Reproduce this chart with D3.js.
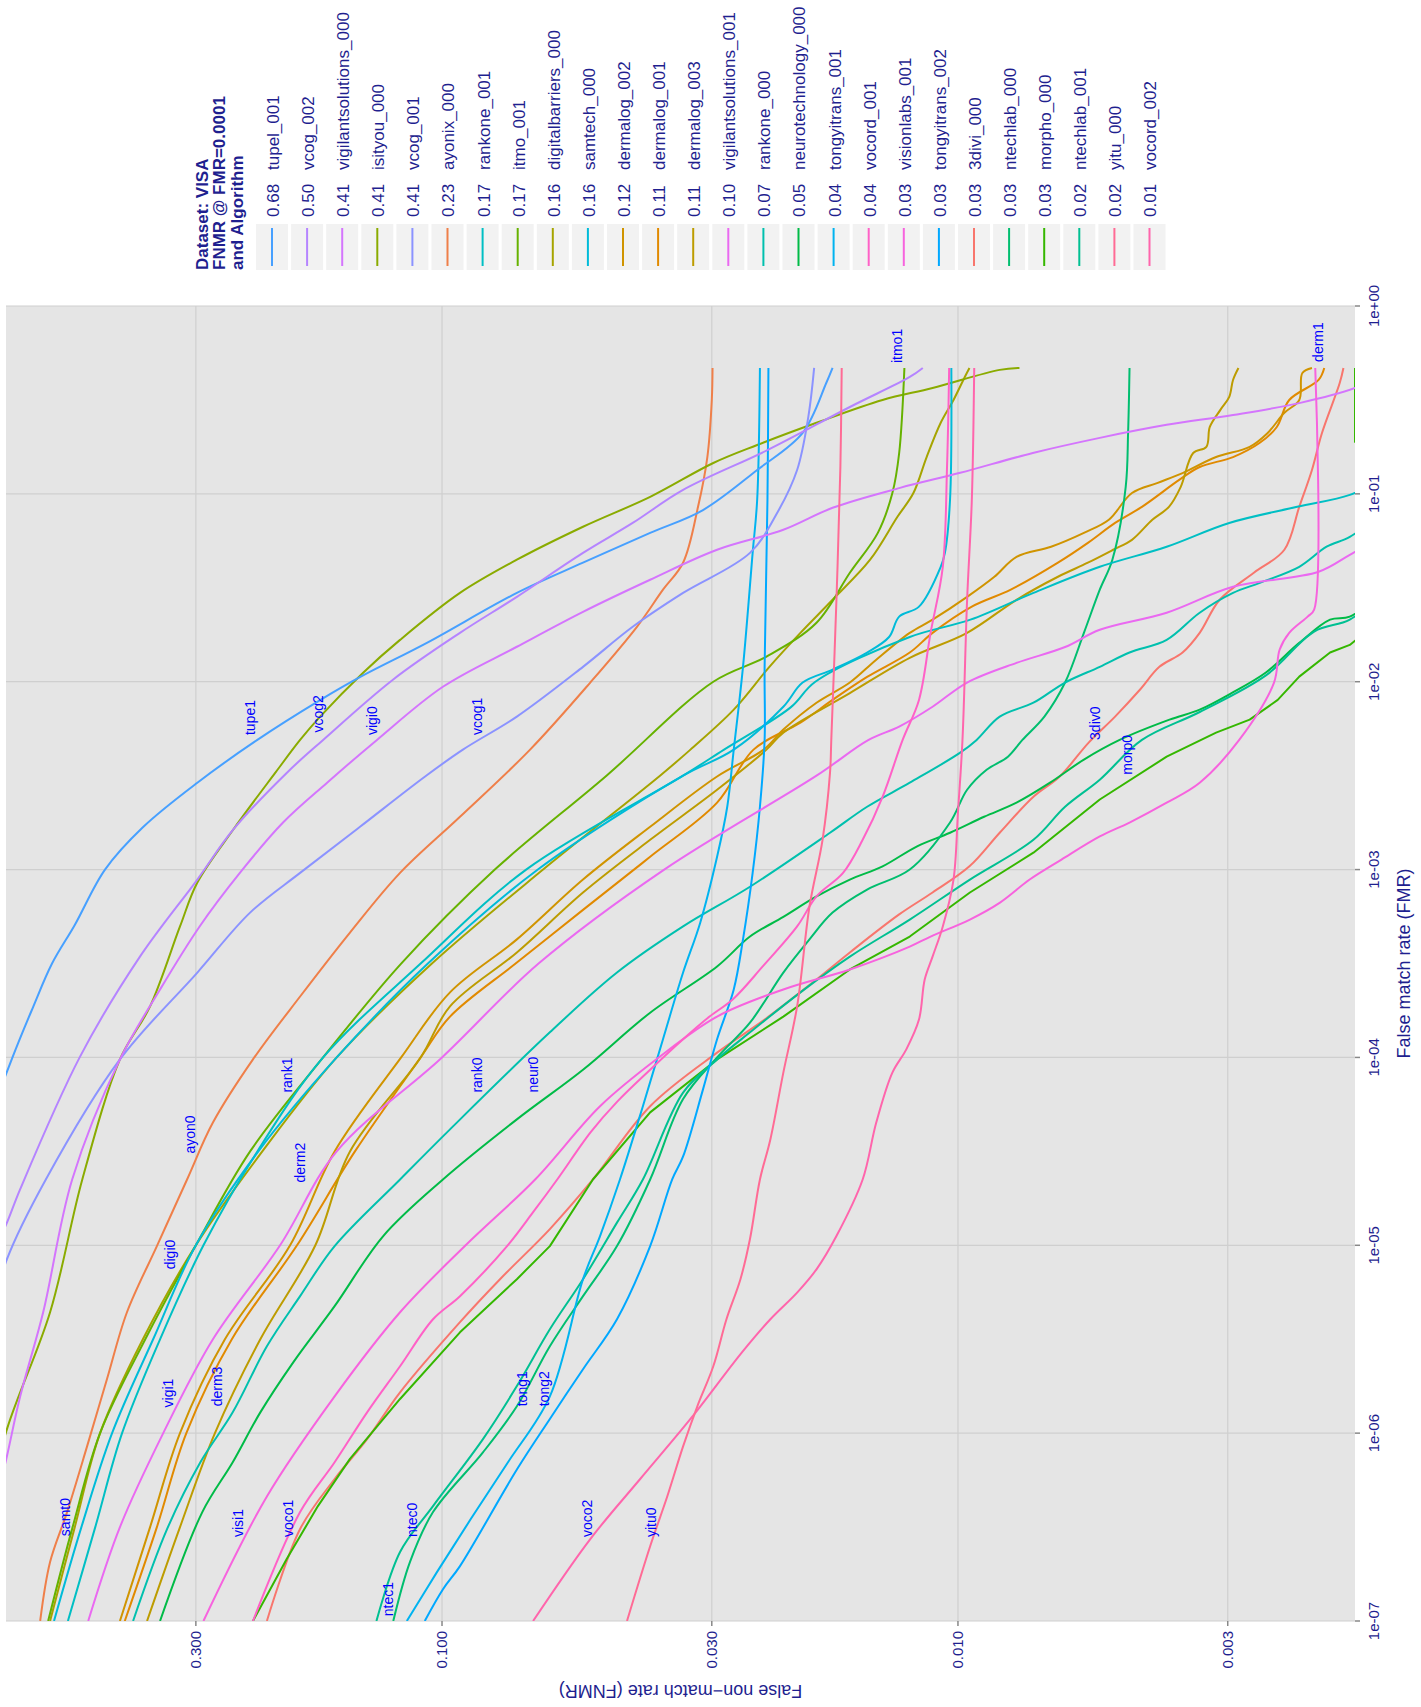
<!DOCTYPE html>
<html>
<head>
<meta charset="utf-8">
<script src="https://cdnjs.cloudflare.com/ajax/libs/d3/7.8.5/d3.min.js"></script>
<style>
  body { margin: 0; background: #fff; }
  text { font-family: "Liberation Sans", Arial, sans-serif; }
</style>
</head>
<body>
<svg id="chart" width="1421" height="1707"></svg>
<script>
// ---- data: [FMR, FNMR] pairs ----
const tupel_001 = [[1e-7,0.97],[3.16e-7,0.95],[1e-6,0.93],[3.16e-6,0.9],[1e-5,0.86],[3.16e-5,0.79],[1e-4,0.68],[1.86e-4,0.62],[3.16e-4,0.57],[5.07e-4,0.515],[1e-3,0.45],[1.68e-3,0.38],[2.9e-3,0.298],[4.9e-3,0.228],[8e-3,0.172],[0.0106,0.144],[0.0161,0.107],[0.0297,0.0716],[0.043,0.0533],[0.062,0.0395],[0.082,0.0312],[0.134,0.0245],[0.211,0.02],[0.389,0.018],[0.468,0.0175]];
const vcog_002 = [[1e-7,0.95],[1e-6,0.88],[3.16e-6,0.82],[1e-5,0.73],[1.32e-5,0.697],[1.99e-5,0.657],[1.01e-4,0.503],[3.44e-4,0.385],[8.85e-4,0.298],[1.63e-3,0.254],[3.28e-3,0.1998],[4.9e-3,0.17],[0.01025,0.1245],[0.0182,0.0923],[0.0283,0.0716],[0.0485,0.0533],[0.07,0.0427],[0.105,0.0341],[0.171,0.0234],[0.29,0.0162],[0.419,0.0124],[0.468,0.0117]];
const vigilantsolutions_000 = [[1e-7,0.8],[3.16e-7,0.75],[7.55e-7,0.697],[1.57e-6,0.657],[4.4e-6,0.593],[2.24e-5,0.521],[9.76e-5,0.421],[2.3e-4,0.352],[4.98e-4,0.295],[9.6e-4,0.2465],[1.78e-3,0.2033],[2.9e-3,0.167],[4.9e-3,0.1337],[9.4e-3,0.0996],[0.01535,0.0716],[0.02355,0.0533],[0.0349,0.0395],[0.0504,0.0293],[0.0644,0.0218],[0.0843,0.0175],[0.1076,0.01295],[0.1294,0.0099],[0.165,0.00716],[0.1986,0.00531],[0.233,0.00394],[0.263,0.00293],[0.305,0.00217],[0.366,0.0017],[0.468,0.0014]];
const isityou_000 = [[1e-7,0.85],[3.16e-7,0.78],[1.05e-6,0.697],[4.4e-6,0.575],[2.24e-5,0.498],[9.76e-5,0.421],[1.87e-4,0.368],[4.98e-4,0.322],[8.53e-4,0.298],[1.63e-3,0.254],[3.28e-3,0.2104],[4.9e-3,0.1884],[6.52e-3,0.1723],[0.01117,0.1422],[0.0167,0.1206],[0.0297,0.0923],[0.0446,0.0716],[0.0668,0.0533],[0.0964,0.0395],[0.146,0.0298],[0.182,0.0245],[0.239,0.0188],[0.316,0.014],[0.366,0.0112],[0.457,0.0083],[0.468,0.0076]];
const vcog_001 = [[1e-7,0.92],[1e-6,0.85],[3.16e-6,0.77],[8.43e-6,0.697],[2.24e-5,0.586],[9.76e-5,0.421],[2.83e-4,0.298],[5.9e-4,0.2355],[9.6e-4,0.1884],[1.69e-3,0.1442],[3.12e-3,0.108],[4.35e-3,0.0911],[6.52e-3,0.0716],[0.012,0.0533],[0.0196,0.0427],[0.0297,0.0341],[0.0485,0.0253],[0.0793,0.0224],[0.134,0.0205],[0.257,0.0195],[0.468,0.019]];
const ayonix_000 = [[1e-7,0.601],[2.06e-7,0.575],[3.8e-7,0.533],[8.5e-7,0.4875],[1.94e-6,0.446],[4.4e-6,0.408],[9.9e-6,0.357],[2.24e-5,0.312],[4.5e-5,0.278],[9.76e-5,0.2325],[2.11e-4,0.1884],[4.62e-4,0.1508],[9.6e-4,0.1206],[1.91e-3,0.0923],[4.35e-3,0.0675],[9.9e-3,0.0516],[0.0196,0.0419],[0.0309,0.0373],[0.043,0.0341],[0.0853,0.0319],[0.157,0.0306],[0.316,0.03],[0.468,0.0299]];
const rankone_001 = [[1e-7,0.531],[3.16e-7,0.47],[1e-6,0.417],[3.16e-6,0.352],[1e-5,0.29],[3.16e-5,0.228],[1e-4,0.17],[3.16e-4,0.11],[1e-3,0.0687],[3.16e-3,0.0341],[4.35e-3,0.0284],[7.3e-3,0.0211],[0.01,0.0189],[0.0173,0.0124],[0.0214,0.00946],[0.0297,0.00714],[0.0409,0.00531],[0.0523,0.00394],[0.07,0.00298],[0.0853,0.0022],[0.0988,0.00174],[0.12,0.0015]];
const itmo_001 = [[1e-7,0.58],[3.16e-7,0.52],[1e-6,0.46],[3.16e-6,0.376],[1e-5,0.3],[3.16e-5,0.2355],[1e-4,0.17],[3.16e-4,0.12],[1e-3,0.079],[3.16e-3,0.048],[0.01,0.0298],[0.0136,0.0235],[0.0206,0.0188],[0.038,0.0162],[0.062,0.0143],[0.101,0.0134],[0.165,0.013],[0.468,0.0127]];
const digitalbarriers_000 = [[1e-7,0.575],[3.16e-7,0.515],[1e-6,0.46],[3.16e-6,0.38],[1e-5,0.3],[3.16e-5,0.223],[1e-4,0.16],[3.16e-4,0.1046],[1e-3,0.0637],[3.16e-3,0.0378],[4.35e-3,0.033],[7.1e-3,0.0272],[0.012,0.0232],[0.0182,0.0202],[0.0273,0.0175],[0.0446,0.0148],[0.0755,0.0131],[0.101,0.0122],[0.157,0.0115],[0.239,0.0108],[0.316,0.0102],[0.419,0.0097],[0.468,0.0095]];
const samtech_000 = [[1e-7,0.565],[3.16e-7,0.5],[1e-6,0.436],[3.16e-6,0.363],[1e-5,0.3],[3.16e-5,0.227],[1e-4,0.16],[3.16e-4,0.1065],[1e-3,0.0652],[3.16e-3,0.0341],[4.35e-3,0.0272],[7.36e-3,0.0218],[9.9e-3,0.02],[0.0116,0.0175],[0.0143,0.015],[0.0173,0.0136],[0.0222,0.013],[0.0251,0.0119],[0.0409,0.0108],[0.0485,0.0106],[0.093,0.01036],[0.468,0.0103]];
const dermalog_002 = [[1e-7,0.421],[3.16e-7,0.368],[1e-6,0.322],[3.16e-6,0.2635],[1e-5,0.197],[3.16e-5,0.1615],[1e-4,0.12],[2.22e-4,0.0965],[4.25e-4,0.0716],[8.85e-4,0.0533],[1.69e-3,0.0395],[3.13e-3,0.0293],[4.35e-3,0.0238],[5.56e-3,0.0218],[7.73e-3,0.0188],[9.9e-3,0.0162],[0.0131,0.0144],[0.0182,0.0124],[0.0214,0.0112],[0.0283,0.0096],[0.0362,0.0085],[0.0462,0.0077],[0.0523,0.0066],[0.062,0.0057],[0.0728,0.0051],[0.101,0.0046],[0.1145,0.0041],[0.129,0.00367],[0.157,0.00316],[0.178,0.00272],[0.211,0.00251],[0.27,0.00233],[0.316,0.00218],[0.44,0.00215],[0.468,0.00206]];
const dermalog_001 = [[1e-7,0.412],[3.16e-7,0.357],[1e-6,0.313],[3.16e-6,0.2555],[1e-5,0.191],[3.16e-5,0.1475],[1e-4,0.11],[1.65e-4,0.0965],[3.2e-4,0.0716],[6.1e-4,0.0533],[1.17e-3,0.0395],[2.27e-3,0.0293],[4.35e-3,0.0249],[6.05e-3,0.0202],[8e-3,0.0175],[0.0106,0.015],[0.0143,0.0124],[0.0182,0.0112],[0.0251,0.0094],[0.0309,0.0079],[0.043,0.0064],[0.0548,0.0056],[0.07,0.00496],[0.0853,0.0044],[0.119,0.00372],[0.139,0.0034],[0.157,0.00293],[0.187,0.0026],[0.227,0.00241],[0.316,0.00228],[0.404,0.002],[0.468,0.00195]];
const dermalog_003 = [[1e-7,0.373],[3.16e-7,0.322],[1e-6,0.2755],[3.16e-6,0.225],[1e-5,0.176],[3.16e-5,0.1508],[1e-4,0.11],[1.87e-4,0.0965],[3.62e-4,0.0716],[7.55e-4,0.0533],[1.44e-3,0.0395],[2.66e-3,0.0293],[4.35e-3,0.0235],[5.36e-3,0.0218],[8.7e-3,0.0162],[0.0134,0.0124],[0.0182,0.0096],[0.0273,0.0077],[0.0362,0.0064],[0.043,0.0056],[0.0504,0.005],[0.0569,0.0046],[0.0728,0.0042],[0.0853,0.0039],[0.109,0.0037],[0.165,0.0035],[0.178,0.0033],[0.227,0.00325],[0.28,0.0031],[0.328,0.00298],[0.404,0.00293],[0.468,0.00286]];
const vigilantsolutions_001 = [[1e-7,0.485],[3.16e-7,0.421],[1e-6,0.347],[3.16e-6,0.278],[1e-5,0.206],[3.16e-5,0.16],[1e-4,0.1],[3.16e-4,0.065],[1e-3,0.0371],[3.16e-3,0.0188],[4.9e-3,0.0149],[5.77e-3,0.013],[7.36e-3,0.0112],[9.9e-3,0.0096],[0.0126,0.0077],[0.0153,0.0062],[0.0189,0.00531],[0.0233,0.00394],[0.032,0.00293],[0.0385,0.002],[0.0474,0.00174],[0.06,0.0015]];
const rankone_000 = [[1e-7,0.397],[3.09e-7,0.341],[7e-7,0.294],[1.29e-6,0.2545],[2.9e-6,0.2185],[5.36e-6,0.1884],[9.9e-6,0.1615],[2.24e-5,0.1206],[4.14e-5,0.0965],[1.36e-4,0.0618],[2.83e-4,0.0458],[4.98e-4,0.0341],[8.1e-4,0.0253],[1.57e-3,0.0177],[2.16e-3,0.015],[2.9e-3,0.0124],[4.19e-3,0.0099],[4.9e-3,0.0092],[6.52e-3,0.0083],[7.73e-3,0.00714],[9.9e-3,0.0062],[0.012,0.00531],[0.0143,0.00465],[0.0167,0.00394],[0.0233,0.0034],[0.0297,0.00293],[0.0336,0.0026],[0.0409,0.00218],[0.0523,0.00193],[0.059,0.00174],[0.08,0.0015]];
const neurotechnology_000 = [[1e-7,0.352],[3.8e-7,0.2915],[7e-7,0.2545],[1.29e-6,0.225],[2.39e-6,0.1941],[4.74e-6,0.1615],[1.12e-5,0.13],[2.24e-5,0.0996],[4.68e-5,0.0716],[8.6e-5,0.0533],[1.73e-4,0.0395],[3.05e-4,0.0293],[4.4e-4,0.0253],[5.6e-4,0.0218],[7.2e-4,0.0188],[8.85e-4,0.0162],[1.04e-3,0.014],[1.33e-3,0.012],[1.57e-3,0.01036],[1.91e-3,0.0089],[2.27e-3,0.0077],[2.9e-3,0.00663],[3.85e-3,0.0057],[4.9e-3,0.00486],[6.28e-3,0.00389],[7.1e-3,0.0034],[8.7e-3,0.00295],[0.0112,0.00253],[0.0161,0.00218],[0.0214,0.0019],[0.0222,0.00174],[0.03,0.0015]];
const tongyitrans_001 = [[1e-7,0.117],[1.82e-7,0.1023],[3.5e-7,0.0879],[7e-7,0.0745],[1.57e-6,0.0618],[6.6e-6,0.0533],[1.12e-5,0.0494],[2.24e-5,0.0452],[5.5e-5,0.0408],[1.25e-4,0.0373],[2.83e-4,0.0341],[5.2e-4,0.0316],[1.17e-3,0.0293],[2.16e-3,0.028],[4.35e-3,0.0272],[0.012,0.0261],[0.0485,0.025],[0.093,0.0245],[0.468,0.0242]];
const vocord_001 = [[1e-7,0.2325],[3.8e-7,0.1884],[7e-7,0.1615],[1.29e-6,0.1397],[2.27e-6,0.1206],[4.04e-6,0.1041],[5.36e-6,0.0923],[9.9e-6,0.0748],[1.5e-5,0.0666],[2.24e-5,0.0598],[4e-5,0.0515],[5.8e-5,0.0458],[8.6e-5,0.0395],[1.25e-4,0.0341],[1.65e-4,0.0303],[2.04e-4,0.0273],[3.05e-4,0.0239],[4.98e-4,0.0205],[7.2e-4,0.0188],[9.6e-4,0.0167],[1.44e-3,0.0153],[2.44e-3,0.014],[4.9e-3,0.0128],[8e-3,0.0119],[0.0182,0.0113],[0.0409,0.0107],[0.139,0.0105],[0.468,0.0104]];
const visionlabs_001 = [[1e-7,0.29],[4.6e-7,0.2185],[1.57e-6,0.1615],[4.4e-6,0.1206],[1e-5,0.09],[2.24e-5,0.066],[5.5e-5,0.0494],[1e-4,0.038],[1.65e-4,0.0293],[2.3e-4,0.0218],[2.94e-4,0.0162],[3.89e-4,0.0124],[4.4e-4,0.0113],[5.42e-4,0.00948],[6.67e-4,0.00829],[8.85e-4,0.00726],[1.13e-3,0.0063],[1.5e-3,0.00531],[1.78e-3,0.00465],[2.27e-3,0.00394],[2.9e-3,0.0034],[4.9e-3,0.00285],[9.9e-3,0.00244],[0.0148,0.00238],[0.0182,0.00228],[0.0222,0.0021],[0.0242,0.00204],[0.468,0.00203]];
const tongyitrans_002 = [[1e-7,0.108],[1.48e-7,0.0995],[1.96e-7,0.0923],[6.4e-7,0.0716],[1.19e-6,0.0618],[2.19e-6,0.0533],[4.04e-6,0.0458],[9.9e-6,0.0395],[2.24e-5,0.0358],[2.97e-5,0.0341],[6.76e-5,0.0312],[1.25e-4,0.0293],[2.3e-4,0.0272],[4.25e-4,0.0261],[9.6e-4,0.025],[2.16e-3,0.0242],[4.9e-3,0.0237],[0.012,0.0237],[0.093,0.0234],[0.468,0.0233]];
const divi_000 = [[1e-7,0.2185],[3.09e-7,0.1884],[5.7e-7,0.1615],[9.3e-7,0.1397],[1.65e-6,0.1206],[3.9e-6,0.0923],[6.6e-6,0.0772],[1.22e-5,0.0618],[2.24e-5,0.051],[5.5e-5,0.0395],[1.06e-4,0.0293],[1.59e-4,0.0237],[2.6e-4,0.0188],[3.62e-4,0.0162],[5.77e-4,0.013],[7.55e-4,0.0112],[1.04e-3,0.0095],[1.57e-3,0.0083],[2.44e-3,0.00714],[3.13e-3,0.00635],[4.74e-3,0.00558],[6.52e-3,0.00496],[9.06e-3,0.00444],[0.012,0.00407],[0.0143,0.00367],[0.0182,0.0034],[0.0273,0.00311],[0.038,0.00267],[0.0504,0.00233],[0.0853,0.00218],[0.134,0.00206],[0.211,0.00197],[0.389,0.00182],[0.468,0.00179]];
const ntechlab_000 = [[1e-7,0.1243],[2.06e-7,0.1154],[3.8e-7,0.1041],[7.9e-7,0.0833],[1.39e-6,0.0716],[2.9e-6,0.0618],[5.36e-6,0.0533],[9.9e-6,0.0458],[2.24e-5,0.0395],[6e-5,0.0341],[1e-4,0.0293],[1.53e-4,0.0253],[2.83e-4,0.0218],[4.25e-4,0.0194],[5.9e-4,0.0175],[7.83e-4,0.015],[1e-3,0.0124],[1.78e-3,0.01036],[2.66e-3,0.0096],[3.4e-3,0.0088],[3.99e-3,0.008],[4.9e-3,0.0075],[6.52e-3,0.0068],[9.9e-3,0.0062],[0.0182,0.0057],[0.0309,0.00531],[0.0446,0.00502],[0.109,0.00473],[0.211,0.00468],[0.468,0.00465]];
const morpho_000 = [[1e-7,0.2325],[2.14e-7,0.2],[4.09e-7,0.174],[7.3e-7,0.1508],[1.52e-6,0.1206],[3.44e-6,0.0923],[6.6e-6,0.0716],[9.9e-6,0.0618],[2.24e-5,0.051],[5.1e-5,0.0395],[9.76e-5,0.0293],[1.65e-4,0.0218],[2.94e-4,0.0162],[4.4e-4,0.0124],[7.55e-4,0.00948],[1.23e-3,0.00714],[2.36e-3,0.00531],[3.99e-3,0.00394],[5.36e-3,0.00316],[6.28e-3,0.00272],[8e-3,0.0024],[0.01064,0.00218],[0.0143,0.0019],[0.0157,0.00174],[0.03,0.0013],[0.1,0.001],[0.189,0],[0.468,0]];
const ntechlab_001 = [[1e-7,0.134],[2.33e-7,0.1206],[4.09e-7,0.1041],[9.3e-7,0.0833],[1.78e-6,0.0716],[3.57e-6,0.0618],[6.6e-6,0.0533],[1.32e-5,0.0458],[2.24e-5,0.0408],[6.5e-5,0.0341],[9.76e-5,0.0293],[1.36e-4,0.0253],[2.22e-4,0.0202],[3.44e-4,0.0162],[5.42e-4,0.0124],[8.85e-4,0.00948],[1.44e-3,0.00714],[2.16e-3,0.0062],[3.01e-3,0.00531],[4.9e-3,0.0044],[6.9e-3,0.0034],[0.0108,0.00253],[0.0185,0.00204],[0.0214,0.00174],[0.03,0.0015]];
const yitu_000 = [[1e-7,0.0438],[2.5e-7,0.0395],[4.6e-7,0.0366],[8.5e-7,0.0341],[1.39e-6,0.032],[2.27e-6,0.0298],[4.04e-6,0.0281],[6.6e-6,0.0264],[1.08e-5,0.0253],[2.24e-5,0.0242],[3.66e-5,0.0231],[8.3e-5,0.0218],[1.87e-4,0.0205],[6.36e-4,0.0194],[1.44e-3,0.0183],[3.28e-3,0.0177],[4.9e-3,0.0176],[0.0273,0.0172],[0.139,0.0169],[0.468,0.0168]];
const vocord_002 = [[1e-7,0.0666],[2.73e-7,0.0516],[5.7e-7,0.0413],[1.19e-6,0.033],[2.7e-6,0.0262],[4.04e-6,0.0231],[5.6e-6,0.0205],[7.45e-6,0.0188],[1.12e-5,0.0172],[2.24e-5,0.0153],[4.5e-5,0.0144],[8.3e-5,0.0134],[1.1e-4,0.0126],[1.59e-4,0.0119],[2.6e-4,0.0116],[3.44e-4,0.0112],[4.98e-4,0.0107],[8.85e-4,0.0102],[2.01e-3,0.01],[4.9e-3,0.0098],[0.0273,0.0096],[0.093,0.0094],[0.468,0.0093]];

// legend: algorithm names sorted by FNMR @ FMR=0.0001
const legendNames = ["tupel_001","vcog_002","vigilantsolutions_000","isityou_000","vcog_001","ayonix_000","rankone_001","itmo_001","digitalbarriers_000","samtech_000","dermalog_002","dermalog_001","dermalog_003","vigilantsolutions_001","rankone_000","neurotechnology_000","tongyitrans_001","vocord_001","visionlabs_001","tongyitrans_002","3divi_000","ntechlab_000","morpho_000","ntechlab_001","yitu_000","vocord_002"];
const legendFnmr = [0.68,0.50,0.41,0.41,0.41,0.23,0.17,0.17,0.16,0.16,0.12,0.11,0.11,0.10,0.07,0.05,0.04,0.04,0.03,0.03,0.03,0.03,0.03,0.02,0.02,0.01];

// short curve labels: [text, FMR, FNMR]
const curveLabels = [["tupe1",5.2e-3,0.2355],["vcog2",5.36e-3,0.174],["vigi0",5.2e-3,0.1366],["vcog1",5.2e-3,0.0855],["itmo1",0.497,0.0131],["derm1",0.504,0.002],["3div0",4.9e-3,0.00543],["morp0",3.2e-3,0.0047],["ayon0",3.08e-5,0.308],["rank1",6.5e-5,0.2],["derm2",2.16e-5,0.188],["rank0",6.5e-5,0.0855],["neur0",6.5e-5,0.0666],["digi0",7.45e-6,0.337],["vigi1",1.37e-6,0.34],["derm3",1.39e-6,0.273],["samt0",2.83e-7,0.538],["visi1",2.8e-7,0.249],["voco1",2.8e-7,0.1985],["ntec0",2.8e-7,0.1143],["ntec1",1.06e-7,0.1273],["tong1",1.39e-6,0.07],["tong2",1.39e-6,0.0635],["voco2",2.8e-7,0.0524],["yitu0",2.8e-7,0.0394]];

const fmrTicks = [1e-7,1e-6,1e-5,1e-4,1e-3,1e-2,1e-1,1];
const fmrTickLabels = ["1e-07","1e-06","1e-05","1e-04","1e-03","1e-02","1e-01","1e+00"];
const fnmrTicks = [0.003,0.01,0.03,0.1,0.3];
const fnmrTickLabels = ["0.003","0.010","0.030","0.100","0.300"];
const fnmrLimits = [0.0017, 0.70];
const fmrLimits = [1e-7, 1];

// ---- styling ----
const curveData = {
  "3divi_000": divi_000, "ayonix_000": ayonix_000, "dermalog_001": dermalog_001,
  "dermalog_002": dermalog_002, "dermalog_003": dermalog_003, "digitalbarriers_000": digitalbarriers_000,
  "isityou_000": isityou_000, "itmo_001": itmo_001, "morpho_000": morpho_000,
  "neurotechnology_000": neurotechnology_000, "ntechlab_000": ntechlab_000, "ntechlab_001": ntechlab_001,
  "rankone_000": rankone_000, "rankone_001": rankone_001, "samtech_000": samtech_000,
  "tongyitrans_001": tongyitrans_001, "tongyitrans_002": tongyitrans_002, "tupel_001": tupel_001,
  "vcog_001": vcog_001, "vcog_002": vcog_002, "vigilantsolutions_000": vigilantsolutions_000,
  "vigilantsolutions_001": vigilantsolutions_001, "visionlabs_001": visionlabs_001,
  "vocord_001": vocord_001, "vocord_002": vocord_002, "yitu_000": yitu_000
};
const palette = {
  "3divi_000": "#F8766D", "ayonix_000": "#EF7F49", "dermalog_001": "#E18A00",
  "dermalog_002": "#D09400", "dermalog_003": "#BD9C00", "digitalbarriers_000": "#A6A400",
  "isityou_000": "#8AAB00", "itmo_001": "#66B200", "morpho_000": "#35B700",
  "neurotechnology_000": "#00BB47", "ntechlab_000": "#00BE6F", "ntechlab_001": "#00C092",
  "rankone_000": "#00C0AE", "rankone_001": "#00BFC4", "samtech_000": "#00BBD9",
  "tongyitrans_001": "#00B3F0", "tongyitrans_002": "#00A8FF", "tupel_001": "#47A0FF",
  "vcog_001": "#8B93FF", "vcog_002": "#B584FF", "vigilantsolutions_000": "#D475FD",
  "vigilantsolutions_001": "#EA69F1", "visionlabs_001": "#F763DE",
  "vocord_001": "#FF61C7", "vocord_002": "#FF65AC", "yitu_000": "#FF6B95"
};
const navy = "#1F1F8F";

const panel = {left: 6, right: 1355, top: 306, bottom: 1621};

const svg = d3.select("#chart");

// FNMR runs horizontally (high on the left), FMR vertically (1e-7 at the bottom)
const x = d3.scaleLog().domain([fnmrLimits[1], fnmrLimits[0]]).range([panel.left, panel.right]);
const y = d3.scaleLog().domain(fmrLimits).range([panel.bottom, panel.top]);

svg.append("rect")
  .attr("x", panel.left).attr("y", panel.top)
  .attr("width", panel.right - panel.left).attr("height", panel.bottom - panel.top)
  .attr("fill", "#E5E5E5");

const grid = svg.append("g").attr("stroke", "#CFCFCF").attr("stroke-width", 1.2);
grid.selectAll(".vgrid").data(fnmrTicks).enter().append("line")
  .attr("x1", d => x(d)).attr("x2", d => x(d))
  .attr("y1", panel.top).attr("y2", panel.bottom);
grid.selectAll(".hgrid").data(fmrTicks).enter().append("line")
  .attr("x1", panel.left).attr("x2", panel.right)
  .attr("y1", d => y(d)).attr("y2", d => y(d));

svg.append("clipPath").attr("id", "panelClip")
  .append("rect")
  .attr("x", panel.left).attr("y", panel.top)
  .attr("width", panel.right - panel.left).attr("height", panel.bottom - panel.top);

// FNMR of 0 sits on the panel edge, like -Inf in ggplot
const line = d3.line()
  .x(d => d[1] > 0 ? x(d[1]) : panel.right)
  .y(d => y(d[0]));
const smooth = d3.curveCatmullRom.alpha(0.5);

const curves = svg.append("g").attr("clip-path", "url(#panelClip)");
Object.keys(curveData).sort().forEach(name => {
  const pts = curveData[name];
  // series that hit FNMR = 0 keep straight segments so nothing bulges off the edge
  line.curve(pts.some(d => d[1] === 0) ? d3.curveLinear : smooth);
  curves.append("path")
    .attr("d", line(pts))
    .attr("fill", "none")
    .attr("stroke", palette[name])
    .attr("stroke-width", 2)
    .attr("stroke-linejoin", "round");
});

svg.append("g").selectAll("text")
  .data(curveLabels).enter().append("text")
  .attr("transform", d => `translate(${x(d[2])},${y(d[1])}) rotate(-90)`)
  .attr("dy", "0.35em")
  .attr("font-size", 14)
  .attr("fill", "#0000FF")
  .text(d => d[0]);

// axes
const axisG = svg.append("g");
axisG.selectAll(".xt").data(fnmrTicks).enter().append("line")
  .attr("x1", d => x(d)).attr("x2", d => x(d))
  .attr("y1", panel.bottom).attr("y2", panel.bottom + 5)
  .attr("stroke", "#888").attr("stroke-width", 1.5);
axisG.selectAll(".xl").data(fnmrTicks).enter().append("text")
  .attr("transform", d => `translate(${x(d)},${panel.bottom + 10}) rotate(-90)`)
  .attr("dy", "0.35em")
  .attr("text-anchor", "end")
  .attr("font-size", 15)
  .attr("fill", navy)
  .text((d, i) => fnmrTickLabels[i]);
axisG.selectAll(".yt").data(fmrTicks).enter().append("line")
  .attr("x1", panel.right).attr("x2", panel.right + 5)
  .attr("y1", d => y(d)).attr("y2", d => y(d))
  .attr("stroke", "#888").attr("stroke-width", 1.5);
axisG.selectAll(".yl").data(fmrTicks).enter().append("text")
  .attr("transform", d => `translate(${panel.right + 19},${y(d)}) rotate(-90)`)
  .attr("dy", "0.35em")
  .attr("text-anchor", "middle")
  .attr("font-size", 15)
  .attr("fill", navy)
  .text((d, i) => fmrTickLabels[i]);

svg.append("text")
  .attr("transform", `translate(1404,${(panel.top + panel.bottom) / 2}) rotate(-90)`)
  .attr("dy", "0.35em")
  .attr("text-anchor", "middle")
  .attr("font-size", 18)
  .attr("fill", navy)
  .text("False match rate (FMR)");
svg.append("text")
  .attr("transform", `translate(${(panel.left + panel.right) / 2},1691) rotate(180)`)
  .attr("dy", "0.35em")
  .attr("text-anchor", "middle")
  .attr("font-size", 18)
  .attr("fill", navy)
  .text("False non\u2212match rate (FNMR)");

// legend
const legend = svg.append("g");
["Dataset: VISA", "FNMR @ FMR=0.0001", "and Algorithm"].forEach((t, i) => {
  legend.append("text")
    .attr("transform", `translate(${202 + i * 17.5},270) rotate(-90)`)
    .attr("dy", "0.35em")
    .attr("font-size", 17)
    .attr("font-weight", "bold")
    .attr("fill", navy)
    .text(t);
});
const keyX = i => 256 + i * 35.1;
const items = legend.selectAll(".item").data(legendNames).enter().append("g");
items.append("rect")
  .attr("x", (d, i) => keyX(i)).attr("y", 224)
  .attr("width", 32).attr("height", 46)
  .attr("fill", "#F2F2F2");
items.append("line")
  .attr("x1", (d, i) => keyX(i) + 16).attr("x2", (d, i) => keyX(i) + 16)
  .attr("y1", 228).attr("y2", 266)
  .attr("stroke", d => palette[d]).attr("stroke-width", 2);
items.append("text")
  .attr("transform", (d, i) => `translate(${keyX(i) + 17},217) rotate(-90)`)
  .attr("dy", "0.35em")
  .attr("font-size", 17)
  .attr("fill", navy)
  .text((d, i) => d3.format(".2f")(legendFnmr[i]));
items.append("text")
  .attr("transform", (d, i) => `translate(${keyX(i) + 17},170) rotate(-90)`)
  .attr("dy", "0.35em")
  .attr("font-size", 17)
  .attr("fill", navy)
  .text(d => d);
</script>
</body>
</html>
